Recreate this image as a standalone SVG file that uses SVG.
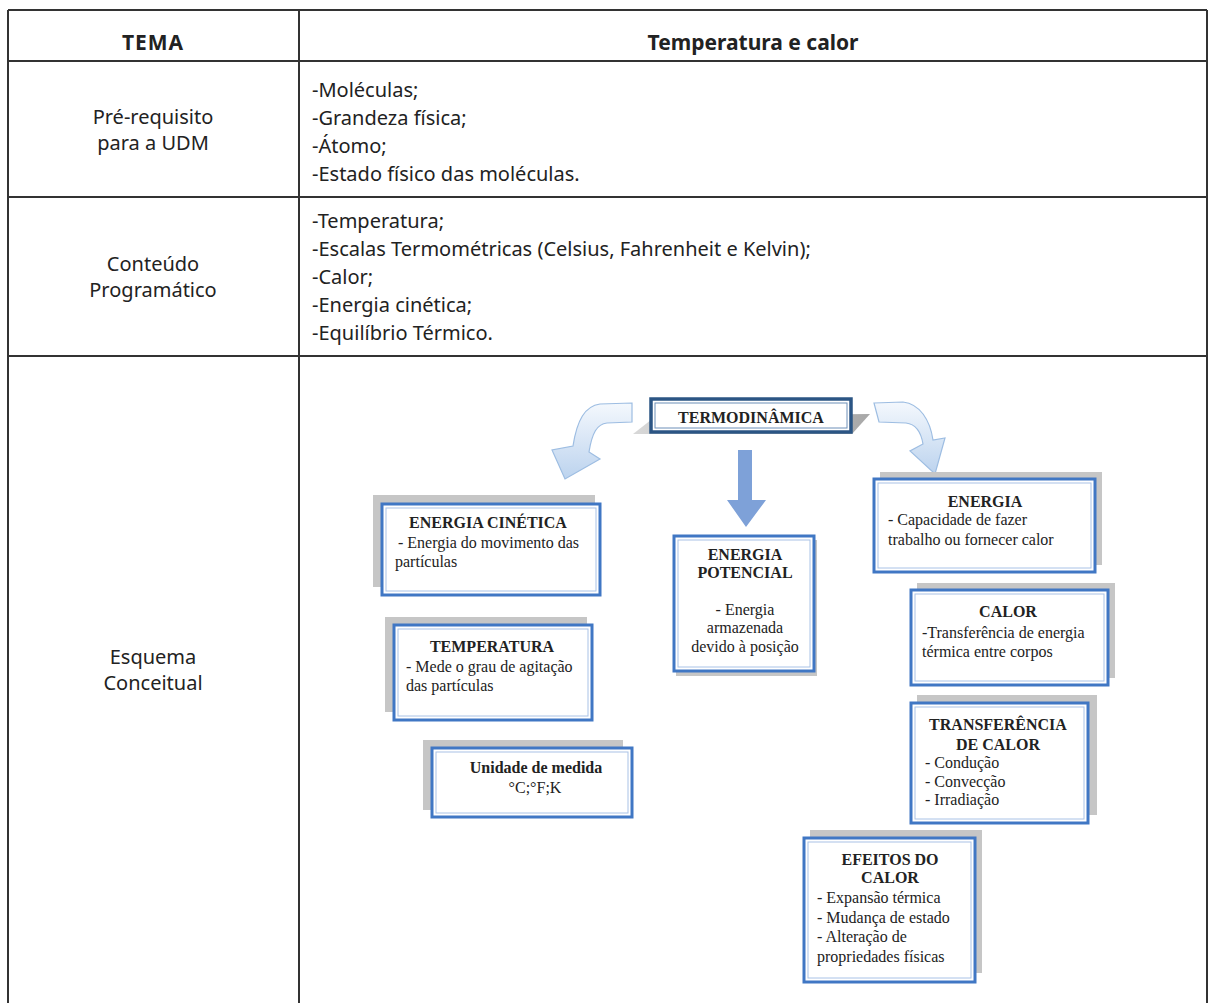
<svg xmlns="http://www.w3.org/2000/svg" width="1208" height="1003" viewBox="0 0 1208 1003">
<defs>
<style>
.tb{fill:none;stroke:#333;stroke-width:2}
.hd{font-family:"Noto Sans","Open Sans",sans-serif;font-size:21px;font-weight:bold;fill:#222;text-anchor:middle}
.tx{font-family:"Noto Sans","Open Sans",sans-serif;font-size:20px;fill:#222}
.lc{text-anchor:middle}
.sh{fill:#c6c6c6}
.bx{fill:#fff;stroke:#4077c4;stroke-width:3}
.bi{fill:none;stroke:#a9c2e6;stroke-width:1}
.t{font-family:"Liberation Serif","Times New Roman",serif;font-size:16px;fill:#222}
.b{font-weight:bold;text-anchor:middle}
.c{text-anchor:middle}
</style>
<linearGradient id="ga" x1="0" y1="0" x2="0" y2="1">
<stop offset="0" stop-color="#f4f8fd"/>
<stop offset="1" stop-color="#bcd3ee"/>
</linearGradient>
<linearGradient id="gs" x1="0" y1="0" x2="1" y2="0">
<stop offset="0" stop-color="#d8d8d8"/>
<stop offset="1" stop-color="#a8a8a8"/>
</linearGradient>
</defs>
<rect width="1208" height="1003" fill="#fff"/>
<g id="table">
<path class="tb" d="M8 10H1207M8 61H1207M8 197H1207M8 356H1207M8 10V1003M299 10V1003M1207 10V1003"/>
<text class="hd" x="153" y="50" letter-spacing="1">TEMA</text>
<text class="hd" x="753" y="50">Temperatura e calor</text>
<text class="tx lc" x="153" y="124">Pré-requisito</text>
<text class="tx lc" x="153" y="150">para a UDM</text>
<text class="tx" x="312" y="97">-Moléculas;</text>
<text class="tx" x="312" y="125">-Grandeza física;</text>
<text class="tx" x="312" y="153">-Átomo;</text>
<text class="tx" x="312" y="181">-Estado físico das moléculas.</text>
<text class="tx lc" x="153" y="271">Conteúdo</text>
<text class="tx lc" x="153" y="297">Programático</text>
<text class="tx" x="312" y="228">-Temperatura;</text>
<text class="tx" x="312" y="256">-Escalas Termométricas (Celsius, Fahrenheit e Kelvin);</text>
<text class="tx" x="312" y="284">-Calor;</text>
<text class="tx" x="312" y="312">-Energia cinética;</text>
<text class="tx" x="312" y="340">-Equilíbrio Térmico.</text>
<text class="tx lc" x="153" y="664">Esquema</text>
<text class="tx lc" x="153" y="690">Conceitual</text>
</g>
<g id="connectors">
<path d="M632 403 L600 404 C585 406 577 420 573 446 L552 450 L565 479 L600 459 L589 452 C592 433 597 424 607 423 L632 422 Z" fill="url(#ga)" stroke="#9dbde2" stroke-width="1.2"/>
<path d="M874 403 L903 402 C920 404 930 420 933 440 L945 438 L935 474 L910 451 L923 444 C921 432 915 424 906 423 L879 422 Z" fill="url(#ga)" stroke="#9dbde2" stroke-width="1.2"/>
<path d="M738 450 H752 V500 H766 L746 527 L727 500 H738 Z" fill="#7ea1d8"/>
</g>
<g id="n-termo">
<polygon points="633,434 656,416 870,414 852,434" fill="url(#gs)"/>
<rect x="651" y="399" width="200" height="33" fill="#fff" stroke="#2b5584" stroke-width="3.5"/>
<rect x="655" y="403" width="192" height="25" fill="none" stroke="#6d8fb8" stroke-width="1"/>
<text class="t b" x="751" y="423" font-size="13">TERMODINÂMICA</text>
</g>
<g id="n-cinetica">
<rect class="sh" x="373" y="495" width="222" height="92"/>
<rect class="bx" x="382" y="504" width="218" height="91"/>
<rect class="bi" x="386" y="508" width="210" height="83"/>
<text class="t b" x="488" y="528">ENERGIA CINÉTICA</text>
<text class="t" x="398" y="548">- Energia do movimento das</text>
<text class="t" x="395" y="567">partículas</text>
</g>
<g id="n-potencial">
<rect class="sh" x="676" y="540" width="141" height="136"/>
<rect class="bx" x="674" y="536" width="140" height="135"/>
<rect class="bi" x="678" y="540" width="132" height="127"/>
<text class="t b" x="745" y="560">ENERGIA</text>
<text class="t b" x="745" y="578">POTENCIAL</text>
<text class="t c" x="745" y="615">- Energia</text>
<text class="t c" x="745" y="633">armazenada</text>
<text class="t c" x="745" y="652">devido à posição</text>
</g>
<g id="n-energia">
<rect class="sh" x="880" y="472" width="222" height="93"/>
<rect class="bx" x="874" y="479" width="221" height="93"/>
<rect class="bi" x="878" y="483" width="213" height="85"/>
<text class="t b" x="985" y="507">ENERGIA</text>
<text class="t" x="888" y="525">- Capacidade de fazer</text>
<text class="t" x="888" y="545">trabalho ou fornecer calor</text>
</g>
<g id="n-temperatura">
<rect class="sh" x="385" y="617" width="202" height="95"/>
<rect class="bx" x="394" y="625" width="198" height="95"/>
<rect class="bi" x="398" y="629" width="190" height="87"/>
<text class="t b" x="492" y="652">TEMPERATURA</text>
<text class="t" x="406" y="672">- Mede o grau de agitação</text>
<text class="t" x="406" y="691">das partículas</text>
</g>
<g id="n-calor">
<rect class="sh" x="917" y="583" width="198" height="95"/>
<rect class="bx" x="911" y="590" width="197" height="95"/>
<rect class="bi" x="915" y="594" width="189" height="87"/>
<text class="t b" x="1008" y="617">CALOR</text>
<text class="t" x="922" y="638">-Transferência de energia</text>
<text class="t" x="922" y="657">térmica entre corpos</text>
</g>
<g id="n-unidade">
<rect class="sh" x="423" y="740" width="200" height="70"/>
<rect class="bx" x="432" y="748" width="200" height="69"/>
<rect class="bi" x="436" y="752" width="192" height="61"/>
<text class="t b" x="536" y="773">Unidade de medida</text>
<text class="t c" x="535" y="793">°C;°F;K</text>
</g>
<g id="n-transferencia">
<rect class="sh" x="917" y="695" width="180" height="120"/>
<rect class="bx" x="911" y="703" width="177" height="120"/>
<rect class="bi" x="915" y="707" width="169" height="112"/>
<text class="t b" x="998" y="730">TRANSFERÊNCIA</text>
<text class="t b" x="998" y="750">DE CALOR</text>
<text class="t" x="925" y="768">- Condução</text>
<text class="t" x="925" y="787">- Convecção</text>
<text class="t" x="925" y="805">- Irradiação</text>
</g>
<g id="n-efeitos">
<rect class="sh" x="810" y="830" width="172" height="143"/>
<rect class="bx" x="804" y="838" width="171" height="144"/>
<rect class="bi" x="808" y="842" width="163" height="136"/>
<text class="t b" x="890" y="865">EFEITOS DO</text>
<text class="t b" x="890" y="883">CALOR</text>
<text class="t" x="817" y="903">- Expansão térmica</text>
<text class="t" x="817" y="923">- Mudança de estado</text>
<text class="t" x="817" y="942">- Alteração de</text>
<text class="t" x="817" y="962">propriedades físicas</text>
</g>
</svg>
